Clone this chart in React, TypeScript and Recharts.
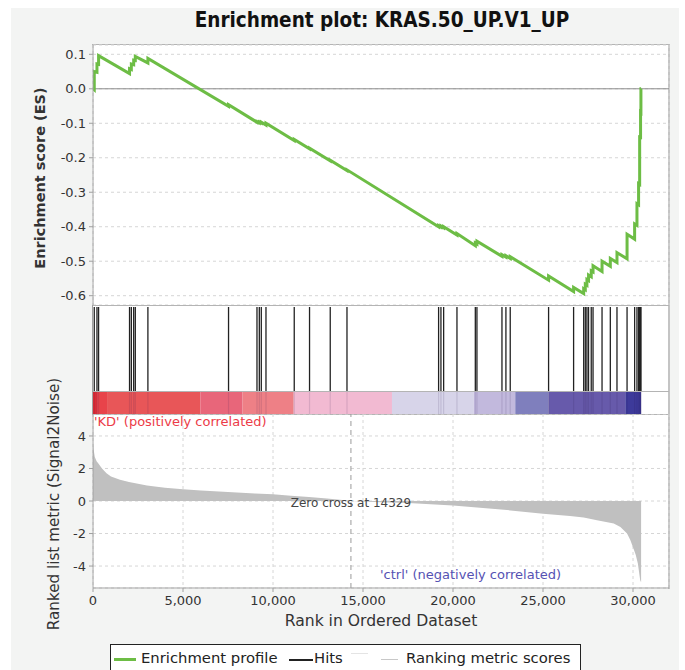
import React from "react";
import {
  LineChart,
  Line,
  AreaChart,
  Area,
  XAxis,
  YAxis,
  CartesianGrid,
  ReferenceLine,
  ReferenceArea,
} from "recharts";

// ---------- data ----------
const xTicks = [0, 5000, 10000, 15000, 20000, 25000, 30000];
const esTicks = [0.1, 0, -0.1, -0.2, -0.3, -0.4, -0.5, -0.6];
const metricTicks = [4, 2, 0, -2, -4];

// running enrichment score vertices (rank, ES)
const esRanks = [
  0, 70, 70, 220, 220, 310, 310, 2030, 2030, 2130, 2130, 2260, 2260, 2350, 2350,
  3050, 3050, 7530, 7530, 9110, 9110, 9240, 9240, 9350, 9350, 9610, 9610,
  11180, 11180, 12030, 12030, 13180, 13180, 14110, 14110, 19200, 19200,
  19330, 19330, 19480, 19480, 20220, 20220, 21240, 21240, 21330, 21330,
  22720, 22720, 22940, 22940, 23180, 23180, 25310, 25310, 26700, 26700,
  27260, 27260, 27350, 27350, 27440, 27440, 27530, 27530, 27680, 27680,
  27780, 27780, 28280, 28280, 28740, 28740, 29110, 29110, 29670, 29670,
  30090, 30090, 30220, 30220, 30310, 30310, 30370, 30370, 30420, 30420,
  30440, 30440, 30450,
];
const esValues = [
  0, -0.003, 0.05, 0.048, 0.072, 0.071, 0.096, 0.044, 0.058, 0.056, 0.072, 0.07, 0.083, 0.082, 0.094,
  0.075, 0.088, -0.051, -0.046, -0.097, -0.095, -0.099, -0.096, -0.099, -0.097, -0.105, -0.1,
  -0.15, -0.147, -0.174, -0.172, -0.209, -0.207, -0.237, -0.235, -0.4, -0.397,
  -0.401, -0.398, -0.403, -0.4, -0.424, -0.42, -0.455, -0.447, -0.45, -0.442,
  -0.486, -0.481, -0.488, -0.484, -0.492, -0.487, -0.555, -0.543, -0.588, -0.576,
  -0.594, -0.58, -0.583, -0.567, -0.57, -0.553, -0.556, -0.54, -0.545, -0.528,
  -0.531, -0.513, -0.53, -0.5, -0.515, -0.492, -0.504, -0.475, -0.493, -0.422,
  -0.436, -0.392, -0.396, -0.333, -0.336, -0.275, -0.277, -0.14, -0.141, -0.068,
  -0.069, 0.0, 0.0,
];

// positions of the gene-set members in the ranked list
const hitRanks = [
  70, 220, 310, 2030, 2130, 2260, 2350, 3050, 7530, 9110, 9240, 9350, 9610,
  11180, 12030, 13180, 14110, 19200, 19330, 19480, 20220, 21240, 21330,
  22720, 22940, 23180, 25310, 26700, 27260, 27350, 27440, 27530, 27680,
  27780, 28280, 28740, 29110, 29670, 30090, 30220, 30310, 30370, 30420, 30440,
];

// ranked list metric (Signal2Noise)
const metricRanks = [
  0, 30, 100, 200, 300, 500, 750, 1000, 1500, 2000, 3000, 4000, 5000, 6000,
  7500, 9000, 10000, 11000, 12000, 13000, 14000, 14329, 15000, 16000, 17500,
  20000, 22500, 25000, 26500, 27260, 28000, 28930, 29300, 29670, 29850, 30030,
  30150, 30270, 30400, 30450,
];
const metricValues = [
  3.6, 3.2, 2.7, 2.45, 2.3, 2.0, 1.7, 1.5, 1.3, 1.17, 0.95, 0.82, 0.72, 0.64,
  0.55, 0.46, 0.41, 0.33, 0.24, 0.15, 0.04, 0, -0.03, -0.07, -0.12,
  -0.27, -0.5, -0.78, -0.93, -1.02, -1.18, -1.39, -1.6, -2.0, -2.4, -2.93,
  -3.3, -3.85, -4.88, -5.0,
];

// heat-map bar segments (start rank, end rank, colour)
const barStarts = [0, 220, 780, 5960, 8310, 11150, 16610, 21150, 23460, 25310, 29570];
const barEnds = [220, 780, 5960, 8310, 11150, 16610, 21150, 23460, 25310, 29570, 30450];
const barColors = [
  "#dc2b35", "#e8434a", "#e85658", "#e8667a", "#ee8086", "#f2bad2",
  "#d7d4e9", "#c2b9dd", "#7f7fbd", "#675aab", "#3d3a9a",
];

const zeroCross = 14329;

const esData = esRanks.map((r, i) => ({ rank: r, es: esValues[i] }));
const metricData = metricRanks.map((r, i) => ({ rank: r, metric: metricValues[i] }));
const hitData = hitRanks.map((r) => ({ rank: r, v: 0.5 }));

// ---------- layout ----------
const W = 685;
const PL = 93; // plot left
const PR = 16; // right margin
const DOMAIN: [number, number] = [0, 32000];
const FONT = "'DejaVu Sans', 'Liberation Sans', sans-serif";
const GREEN = "#6dbd45";
const tickStyle = { fontSize: 13, fill: "#333", fontFamily: FONT };

const fmtThousands = (v: number) => v.toLocaleString("en-US");

const Abs: React.FC<{ style: React.CSSProperties; children?: React.ReactNode }> = ({ style, children }) => (
  <div style={{ position: "absolute", fontFamily: FONT, whiteSpace: "nowrap", ...style }}>{children}</div>
);

const StripAxes = () => null;

export default function App() {
  return (
    <div style={{ position: "absolute", left: 0, top: 0, width: W, height: 670, background: "#fff", overflow: "hidden" }}>
      <div style={{ position: "absolute", left: 11, top: 8, width: 668, height: 662, background: "#f3f4f3" }} />

      {/* plot frame backgrounds */}
      <div style={{ position: "absolute", left: 92, top: 44, width: 576, height: 544, background: "#fff", borderTop: "1px solid #b4b4b4", borderRight: "2px solid #c4c4c4" }} />

      {/* title */}
      <Abs style={{ left: 0, width: 764, top: 8, textAlign: "center", fontSize: 20.5, fontWeight: "bold", color: "#111", fontFamily: "'DejaVu Sans Condensed', 'DejaVu Sans', sans-serif" }}>
        Enrichment plot: KRAS.50_UP.V1_UP
      </Abs>

      {/* ES panel */}
      <div style={{ position: "absolute", left: 0, top: 0 }}>
        <LineChart width={W} height={306} data={esData} margin={{ top: 45, right: PR, bottom: 1, left: PL - 50 }}>
          <CartesianGrid stroke="#d6d6d6" strokeDasharray="3 3" />
          <XAxis dataKey="rank" type="number" domain={DOMAIN} ticks={xTicks} height={0} tick={false} axisLine={false} tickLine={false} allowDataOverflow />
          <YAxis
            width={50}
            type="number"
            domain={[-0.627, 0.127]}
            ticks={esTicks}
            tickFormatter={(v: number) => v.toFixed(1)}
            tick={tickStyle}
            tickSize={4}
            tickMargin={3}
            stroke="#a0a0a0"
            allowDataOverflow
          />
          <ReferenceLine y={0} stroke="#8c8c8c" strokeWidth={1} />
          <Line dataKey="es" type="linear" stroke={GREEN} strokeWidth={3} dot={false} isAnimationActive={false} />
        </LineChart>
      </div>

      {/* hits panel */}
      <div style={{ position: "absolute", left: 0, top: 305 }}>
        <LineChart width={W} height={87} data={hitData} margin={{ top: 2, right: PR, bottom: 0, left: PL }}>
          <XAxis dataKey="rank" type="number" domain={DOMAIN} height={0} tick={false} axisLine={false} tickLine={false} allowDataOverflow />
          <YAxis type="number" domain={[0, 1]} width={0} tick={false} axisLine={false} tickLine={false} allowDataOverflow />
          <Line dataKey="v" stroke="none" dot={false} isAnimationActive={false} />
          {hitRanks.map((h, i) => (
            <ReferenceLine key={i} x={h} stroke="#222" strokeWidth={1.3} />
          ))}
        </LineChart>
      </div>

      {/* colour bar */}
      <div style={{ position: "absolute", left: 0, top: 392 }}>
        <LineChart width={W} height={22} data={hitData} margin={{ top: 0, right: PR, bottom: 0, left: PL }}>
          <XAxis dataKey="rank" type="number" domain={DOMAIN} height={0} tick={false} axisLine={false} tickLine={false} allowDataOverflow />
          <YAxis type="number" domain={[0, 1]} width={0} tick={false} axisLine={false} tickLine={false} allowDataOverflow />
          <Line dataKey="v" stroke="none" dot={false} isAnimationActive={false} />
          {barStarts.map((s, i) => (
            <ReferenceArea key={i} x1={s} x2={barEnds[i]} y1={0} y2={1} fill={barColors[i]} fillOpacity={1} stroke="none" />
          ))}
          {hitRanks.map((h, i) => (
            <ReferenceLine key={"h" + i} x={h} stroke="rgba(40,20,80,0.13)" strokeWidth={1.2} />
          ))}
        </LineChart>
      </div>
      <div style={{ position: "absolute", left: 92, top: 305, width: 577, height: 1, background: "#b4b4b4" }} />
      <div style={{ position: "absolute", left: 92, top: 391, width: 577, height: 1, background: "#b4b4b4" }} />
      <div style={{ position: "absolute", left: 92, top: 414, width: 577, height: 1, background: "#b4b4b4" }} />
      <div style={{ position: "absolute", left: 92, top: 305, width: 1, height: 110, background: "#a0a0a0" }} />

      {/* ranked metric panel */}
      <div style={{ position: "absolute", left: 0, top: 414 }}>
        <AreaChart width={W} height={204} data={metricData} margin={{ top: 0, right: PR, bottom: 0, left: PL - 50 }}>
          <CartesianGrid stroke="#d6d6d6" strokeDasharray="3 3" />
          <XAxis
            dataKey="rank"
            type="number"
            domain={DOMAIN}
            ticks={xTicks}
            tickFormatter={fmtThousands}
            tick={tickStyle}
            tickSize={4}
            tickMargin={4}
            height={30}
            stroke="#a0a0a0"
            allowDataOverflow
          />
          <YAxis
            width={50}
            type="number"
            domain={[-5.35, 5.35]}
            ticks={metricTicks}
            tick={tickStyle}
            tickSize={4}
            tickMargin={3}
            stroke="#a0a0a0"
            allowDataOverflow
          />
          <Area dataKey="metric" type="linear" baseValue={0} stroke="none" fill="#c0c0c0" fillOpacity={1} isAnimationActive={false} />
          <ReferenceLine
            x={zeroCross}
            stroke="#9a9a9a"
            strokeDasharray="5 4"
            label={{ value: "Zero cross at " + zeroCross, position: "center", fontSize: 12, fill: "#444", fontFamily: FONT, dy: 2 }}
          />
        </AreaChart>
      </div>

      <Abs style={{ left: 94, top: 414, fontSize: 13, color: "#ec3b48" }}>'KD' (positively correlated)</Abs>
      <Abs style={{ left: 380, top: 567, fontSize: 13, color: "#5552b3" }}>'ctrl' (negatively correlated)</Abs>

      {/* axis titles */}
      <Abs style={{ left: 40, top: 178, transform: "translate(-50%, -50%) rotate(-90deg)", fontSize: 14.5, fontWeight: "bold", color: "#333" }}>
        Enrichment score (ES)
      </Abs>
      <Abs style={{ left: 54, top: 504, transform: "translate(-50%, -50%) rotate(-90deg)", fontSize: 15.2, color: "#333" }}>
        Ranked list metric (Signal2Noise)
      </Abs>
      <Abs style={{ left: 0, width: 762, top: 612, textAlign: "center", fontSize: 15.6, color: "#333" }}>Rank in Ordered Dataset</Abs>

      {/* legend */}
      <div style={{ position: "absolute", left: 110, top: 644, width: 469, height: 30, border: "1px solid #222", background: "#fff", fontFamily: FONT, fontSize: 14.8, color: "#222" }}>
        <div style={{ position: "absolute", left: 3, top: 13, width: 22, height: 3, background: GREEN }} />
        <div style={{ position: "absolute", left: 30, top: 4 }}>Enrichment profile</div>
        <div style={{ position: "absolute", left: 178, top: 14, width: 24, height: 1.5, background: "#222" }} />
        <div style={{ position: "absolute", left: 203, top: 4 }}>Hits</div>
        <div style={{ position: "absolute", left: 240, top: 8, width: 17, height: 1, background: "#e4e4e4" }} />
        <div style={{ position: "absolute", left: 270, top: 14, width: 17, height: 1, background: "#c8c8c8" }} />
        <div style={{ position: "absolute", left: 295, top: 4 }}>Ranking metric scores</div>
      </div>
    </div>
  );
}
